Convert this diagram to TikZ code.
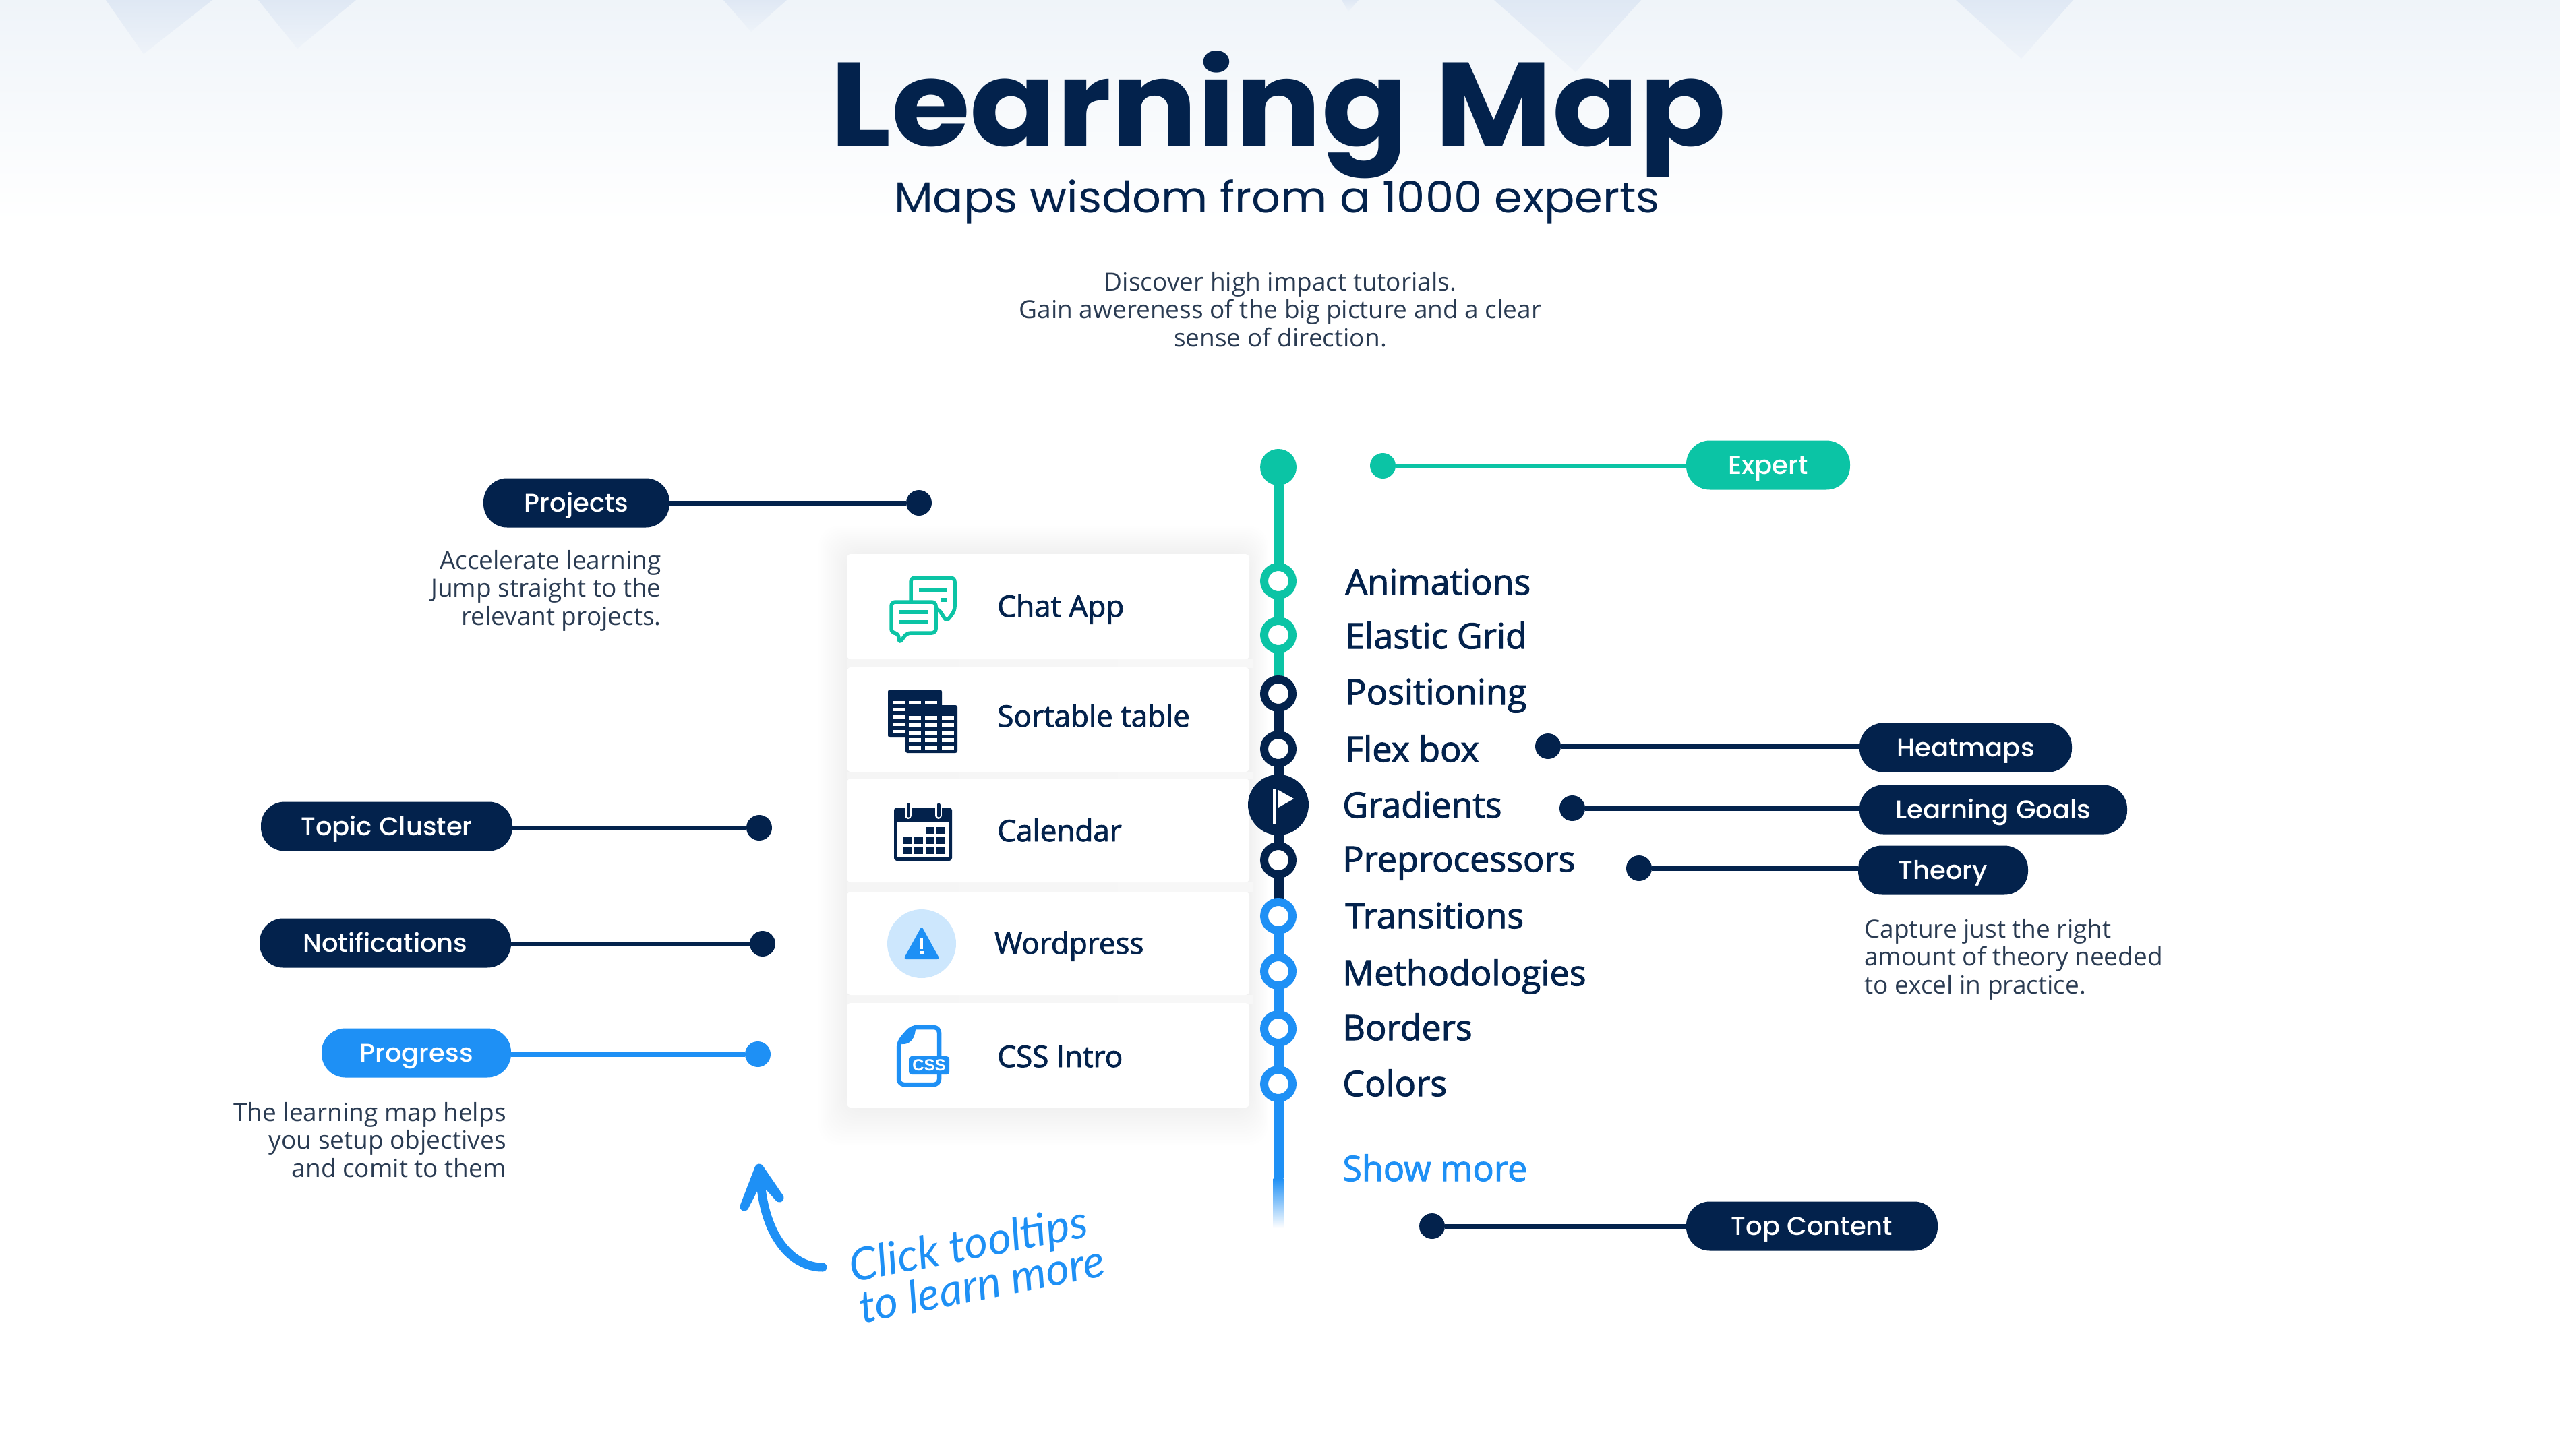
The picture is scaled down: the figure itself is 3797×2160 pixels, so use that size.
\documentclass[tikz,border=0pt]{standalone}
\usepackage{fontspec}
\usetikzlibrary{shapes.misc}
\setmainfont{Open Sans}
\newfontfamily\popb{Poppins}[UprightFont=* Bold,FakeStretch=1.077]
\newfontfamily\popm{Poppins}[UprightFont=* Medium,FakeStretch=1.015]
\newfontfamily\popr{Poppins}[FakeStretch=1.05]
\newfontfamily\osb{Open Sans}[FakeBold=2]
\newfontfamily\hand{Lato}[ItalicFont=* Italic]
\definecolor{navy}{HTML}{03224C}
\definecolor{teal}{HTML}{0BC4A5}
\definecolor{sky}{HTML}{1E90F5}
\definecolor{txt}{HTML}{2A3B52}
\definecolor{washtop}{HTML}{EFF4F9}
\definecolor{tritop}{HTML}{DFE8F4}
\definecolor{tribot}{HTML}{EEF3F9}
\newcommand{\fpx}[2][1.08]{\pgfmathsetmacro{\fa}{#2*0.569}\pgfmathsetmacro{\fb}{#1*0.569}\fontsize{\fa pt}{\fb pt}\selectfont}
\tikzset{
  pillbox/.style={rectangle,rounded corners=0.7cm,inner sep=0,text=white,font={\popm\fpx{38}},minimum height=1.46cm,text height=0.53cm,text depth=0cm},
  dotnode/.style={circle,inner sep=0,minimum size=0.76cm},
  wire/.style={line width=0.14cm},
  ringnode/.style={circle,inner sep=0,minimum size=0.84cm,line width=0.24cm,fill=white},
  spine/.style={line width=0.3cm},
  cardbox/.style={fill=white,rounded corners=0.12cm},
  itemlabel/.style={anchor=base west,inner sep=0,text=navy,font={\osb\fpx{44}}},
  listlabel/.style={anchor=base west,inner sep=0,text=navy,font={\osb\fpx{52}}},
  desc/.style={inner sep=0,text=txt,font={\fpx[41.5]{37}}},
}
\newcommand{\pill}[6]{\node[pillbox,fill=#5,minimum width={(#3-#2)*0.02cm}] (#1) at ({(#2+#3)/2},#4) {#6};}
\begin{document}
\begin{tikzpicture}[x=0.02cm,y=-0.02cm]
\useasboundingbox (0,0) rectangle (3797,2160);
\fill[white] (0,0) rectangle (3797,2160);
% background wash
\shade[top color=washtop,bottom color=white] (0,0) rectangle (3797,330);
\foreach \a/\b/\c/\d in {157/315/213/80,383/528/441/72,1073/1167/1114/47,1990/2015/2000/17,2216/2434/2337/107,2901/3075/2998/87}{
  \shade[top color=tritop,bottom color=tribot] (\a,0) -- (\b,0) -- (\c,\d) -- cycle;
}
% titles
\node[inner sep=0,anchor=base,text=navy,font={\popb\fpx{176}}] (title) at (1896,216) {Learning Map};
\node[inner sep=0,anchor=base,text=navy,font={\popr\fpx{64}}] (subtitle) at (1894,315) {Maps wisdom from a 1000 experts};
\node[desc,align=center,anchor=base] (intro) at (1899,514) {Discover high impact tutorials.\\Gain awereness of the big picture and a clear\\sense of direction.};
% card shadow
\foreach \i in {1,...,14}{
  \fill[black,opacity=0.005,rounded corners=0.6cm] ({1256-\i*3},{822-\i*3}) rectangle ({1853+\i*2},{1643+\i*4});
}
\foreach \a/\b in {978/990,1145/1155,1309/1323,1476/1488}{
  \shade[left color=black!4,middle color=black!10,right color=black!3] (1256,\a) rectangle (1858,\b);
}
\fill[cardbox] (1256,822) rectangle (1853,978);
\fill[cardbox] (1256,990) rectangle (1853,1145);
\fill[cardbox] (1256,1155) rectangle (1853,1309);
\fill[cardbox] (1256,1323) rectangle (1853,1476);
\fill[cardbox] (1256,1488) rectangle (1853,1643);
% card labels
\node[itemlabel] (chat) at (1479,915) {Chat App};
\node[itemlabel] (sort) at (1479,1078) {Sortable table};
\node[itemlabel] (cal) at (1479,1248) {Calendar};
\node[itemlabel] (wp) at (1475,1415) {Wordpress};
\node[itemlabel] (css) at (1479,1583) {CSS Intro};
% chat icon
\begin{scope}[teal,line width=0.11cm,rounded corners=0.12cm]
\draw (1351,903) -- (1351,857) -- (1416,857) -- (1416,906) -- (1404,922) -- (1392,903) -- cycle;
\draw[fill=white] (1322,893) -- (1388,893) -- (1388,939) -- (1345,939) -- (1334,954) -- (1332,939) -- (1322,939) -- cycle;
\end{scope}
\draw[teal,line width=0.13cm] (1363,875) -- (1404,875) (1396,890) -- (1404,890) (1334,908) -- (1376,908) (1334,923) -- (1376,923);
% table icon
\fill[navy,rounded corners=0.06cm] (1317,1023) rectangle (1397,1094);
\foreach \x in {1324,1348,1372}{\fill[white] (\x,1040) rectangle ++(18,5);}
\foreach \y in {1050,1061,1072,1083}{\fill[white] (1324,\y) rectangle ++(18,5);}
\fill[navy,rounded corners=0.06cm] (1343,1046) rectangle (1420,1117);
\foreach \x in {1348,1372,1397}{\foreach \y in {1062,1073,1084,1095,1106}{\fill[white] (\x,\y) rectangle ++(18,6);}}
% calendar icon
\fill[navy,rounded corners=0.08cm] (1326,1198) rectangle (1412,1277);
\fill[white] (1331,1220) rectangle (1407,1272);
\foreach \x in {1347,1392}{\draw[white,line width=0.2cm,line cap=round] (\x,1194) -- (\x,1210);\draw[navy,line width=0.1cm,line cap=round] (\x,1194) -- (\x,1210);}
\foreach \x/\y in {1379/1232,1395/1232,1345/1247,1362/1247,1379/1247,1395/1247,1345/1262,1362/1262,1379/1262,1395/1262}{\fill[navy] ({\x-6.5},{\y-5}) rectangle ++(13,10);}
% warning icon
\node[circle,fill=sky!22,inner sep=0,minimum size=2.04cm] (warnbg) at (1367,1400) {};
\fill[sky,rounded corners=0.08cm] (1367,1374) -- (1394,1423) -- (1340,1423) -- cycle;
\draw[white,line width=0.09cm] (1367,1392) -- (1367,1408);
\fill[white] (1364.5,1411) rectangle (1369.5,1416);
% css icon
\draw[sky,line width=0.13cm,rounded corners=0.16cm] (1352,1524) -- (1393,1524) -- (1393,1609) -- (1333,1609) -- (1333,1546) -- cycle;
\fill[sky] (1354,1524) -- (1333,1546) -- (1338,1549) .. controls (1350,1550) and (1358,1540) .. (1358,1524) -- cycle;
\node[fill=sky,rounded corners=0.08cm,inner sep=0,minimum width=1.2cm,minimum height=0.54cm,text=white,font={\fontspec{Liberation Sans}\fpx{24}\bfseries}] (cssbadge) at (1378,1580.5) {CSS};
% spine
\node[circle,fill=teal,inner sep=0,minimum size=1.08cm] (top) at (1896,693) {};
\coordinate (tealend) at (1896,1003);
\coordinate (navyend) at (1896,1334);
\coordinate (fadestart) at (1896,1748);
\coordinate (fadeend) at (1896,1822);
\draw[spine,teal] (top) -- (tealend);
\draw[spine,navy] (tealend) -- (navyend);
\draw[spine,sky] (navyend) -- (fadestart);
\shade[top color=sky,bottom color=white] (1888.5,1748) rectangle (1903.5,1822);
\foreach \n/\y/\c in {ra/862/teal,rb/942/teal,rc/1029/navy,rd/1111/navy,rf/1276/navy,rg/1359/sky,rh/1441/sky,ri/1526/sky,rj/1608/sky}{
  \node[ringnode,draw=\c] (\n) at (1896,\y) {};
}
\node[circle,fill=navy,inner sep=0,minimum size=1.8cm] (re) at (1896,1194) {};
\draw[white,line width=0.08cm] (1890,1170) -- (1890,1223);
\fill[white] (1896,1172) -- (1919,1185) -- (1896,1198) -- cycle;
% list
\node[listlabel] (l1) at (1995,882) {Animations};
\node[listlabel] (l2) at (1995,962) {Elastic Grid};
\node[listlabel] (l3) at (1995,1045) {Positioning};
\node[listlabel] (l4) at (1995,1130) {Flex box};
\node[listlabel] (l5) at (1991,1213) {Gradients};
\node[listlabel] (l6) at (1991,1293) {Preprocessors};
\node[listlabel] (l7) at (1995,1377) {Transitions};
\node[listlabel] (l8) at (1991,1462) {Methodologies};
\node[listlabel] (l9) at (1991,1543) {Borders};
\node[listlabel] (l10) at (1991,1626) {Colors};
\node[listlabel,text=sky] (l11) at (1991,1752) {Show more};
% tooltips left
\pill{pProj}{717}{993}{746}{navy}{Projects}
\node[dotnode,fill=navy] (dProj) at (1363,746) {};
\draw[wire,navy] (pProj) -- (dProj);
\pill{pTopic}{387}{760}{1226}{navy}{Topic Cluster}
\node[dotnode,fill=navy] (dTopic) at (1126,1228) {};
\draw[wire,navy] (pTopic.east |- dTopic) -- (dTopic);
\pill{pNoti}{385}{758}{1399}{navy}{Notifications}
\node[dotnode,fill=navy] (dNoti) at (1131,1400) {};
\draw[wire,navy] (pNoti.east |- dNoti) -- (dNoti);
\pill{pProg}{477}{758}{1562}{sky}{Progress}
\node[dotnode,fill=sky] (dProg) at (1124,1564) {};
\draw[wire,sky] (pProg.east |- dProg) -- (dProg);
% tooltips right
\pill{pExp}{2501}{2744}{690}{teal}{Expert}
\node[dotnode,fill=teal] (dExp) at (2051,691) {};
\draw[wire,teal] (pExp.west |- dExp) -- (dExp);
\pill{pHeat}{2758}{3073}{1109}{navy}{Heatmaps}
\node[dotnode,fill=navy] (dHeat) at (2296,1107) {};
\draw[wire,navy] (pHeat.west |- dHeat) -- (dHeat);
\pill{pGoal}{2758}{3155}{1201}{navy}{Learning Goals}
\node[dotnode,fill=navy] (dGoal) at (2332,1199) {};
\draw[wire,navy] (pGoal.west |- dGoal) -- (dGoal);
\pill{pTheo}{2756}{3008}{1291}{navy}{Theory}
\node[dotnode,fill=navy] (dTheo) at (2431,1288) {};
\draw[wire,navy] (pTheo.west |- dTheo) -- (dTheo);
\pill{pTop}{2501}{2874}{1819}{navy}{Top Content}
\node[dotnode,fill=navy] (dTop) at (2124,1819) {};
\draw[wire,navy] (pTop) -- (dTop);
% descriptions
\node[desc,align=right,anchor=base east] (dsc1) at (981,927) {Accelerate learning\\Jump straight to the\\relevant projects.};
\node[desc,align=right,anchor=base east] (dsc2) at (751,1746) {The learning map helps\\you setup objectives\\and comit to them};
\node[desc,align=left,anchor=base west] (dsc3) at (2765,1474) {Capture just the right\\amount of theory needed\\to excel in practice.};
% hand arrow
\coordinate (atail) at (1220,1880);
\coordinate (atip) at (1127,1735);
\draw[sky,line width=0.26cm,line cap=round] (atail) .. controls (1175,1880) and (1130,1835) .. (atip);
\draw[sky,line width=0.26cm,line cap=round,line join=round,fill=sky] (1104,1790) -- (1126,1733) -- (1156,1777) -- (1127,1745) -- cycle;
\node[inner sep=0,rotate=11,text=sky,font={\hand\itshape\fpx{67}}] (c1) at (1437,1850) {Click tooltips};
\node[inner sep=0,rotate=11,text=sky,font={\hand\itshape\fpx{67}}] (c2) at (1456,1904) {to learn more};
\end{tikzpicture}
\end{document}
